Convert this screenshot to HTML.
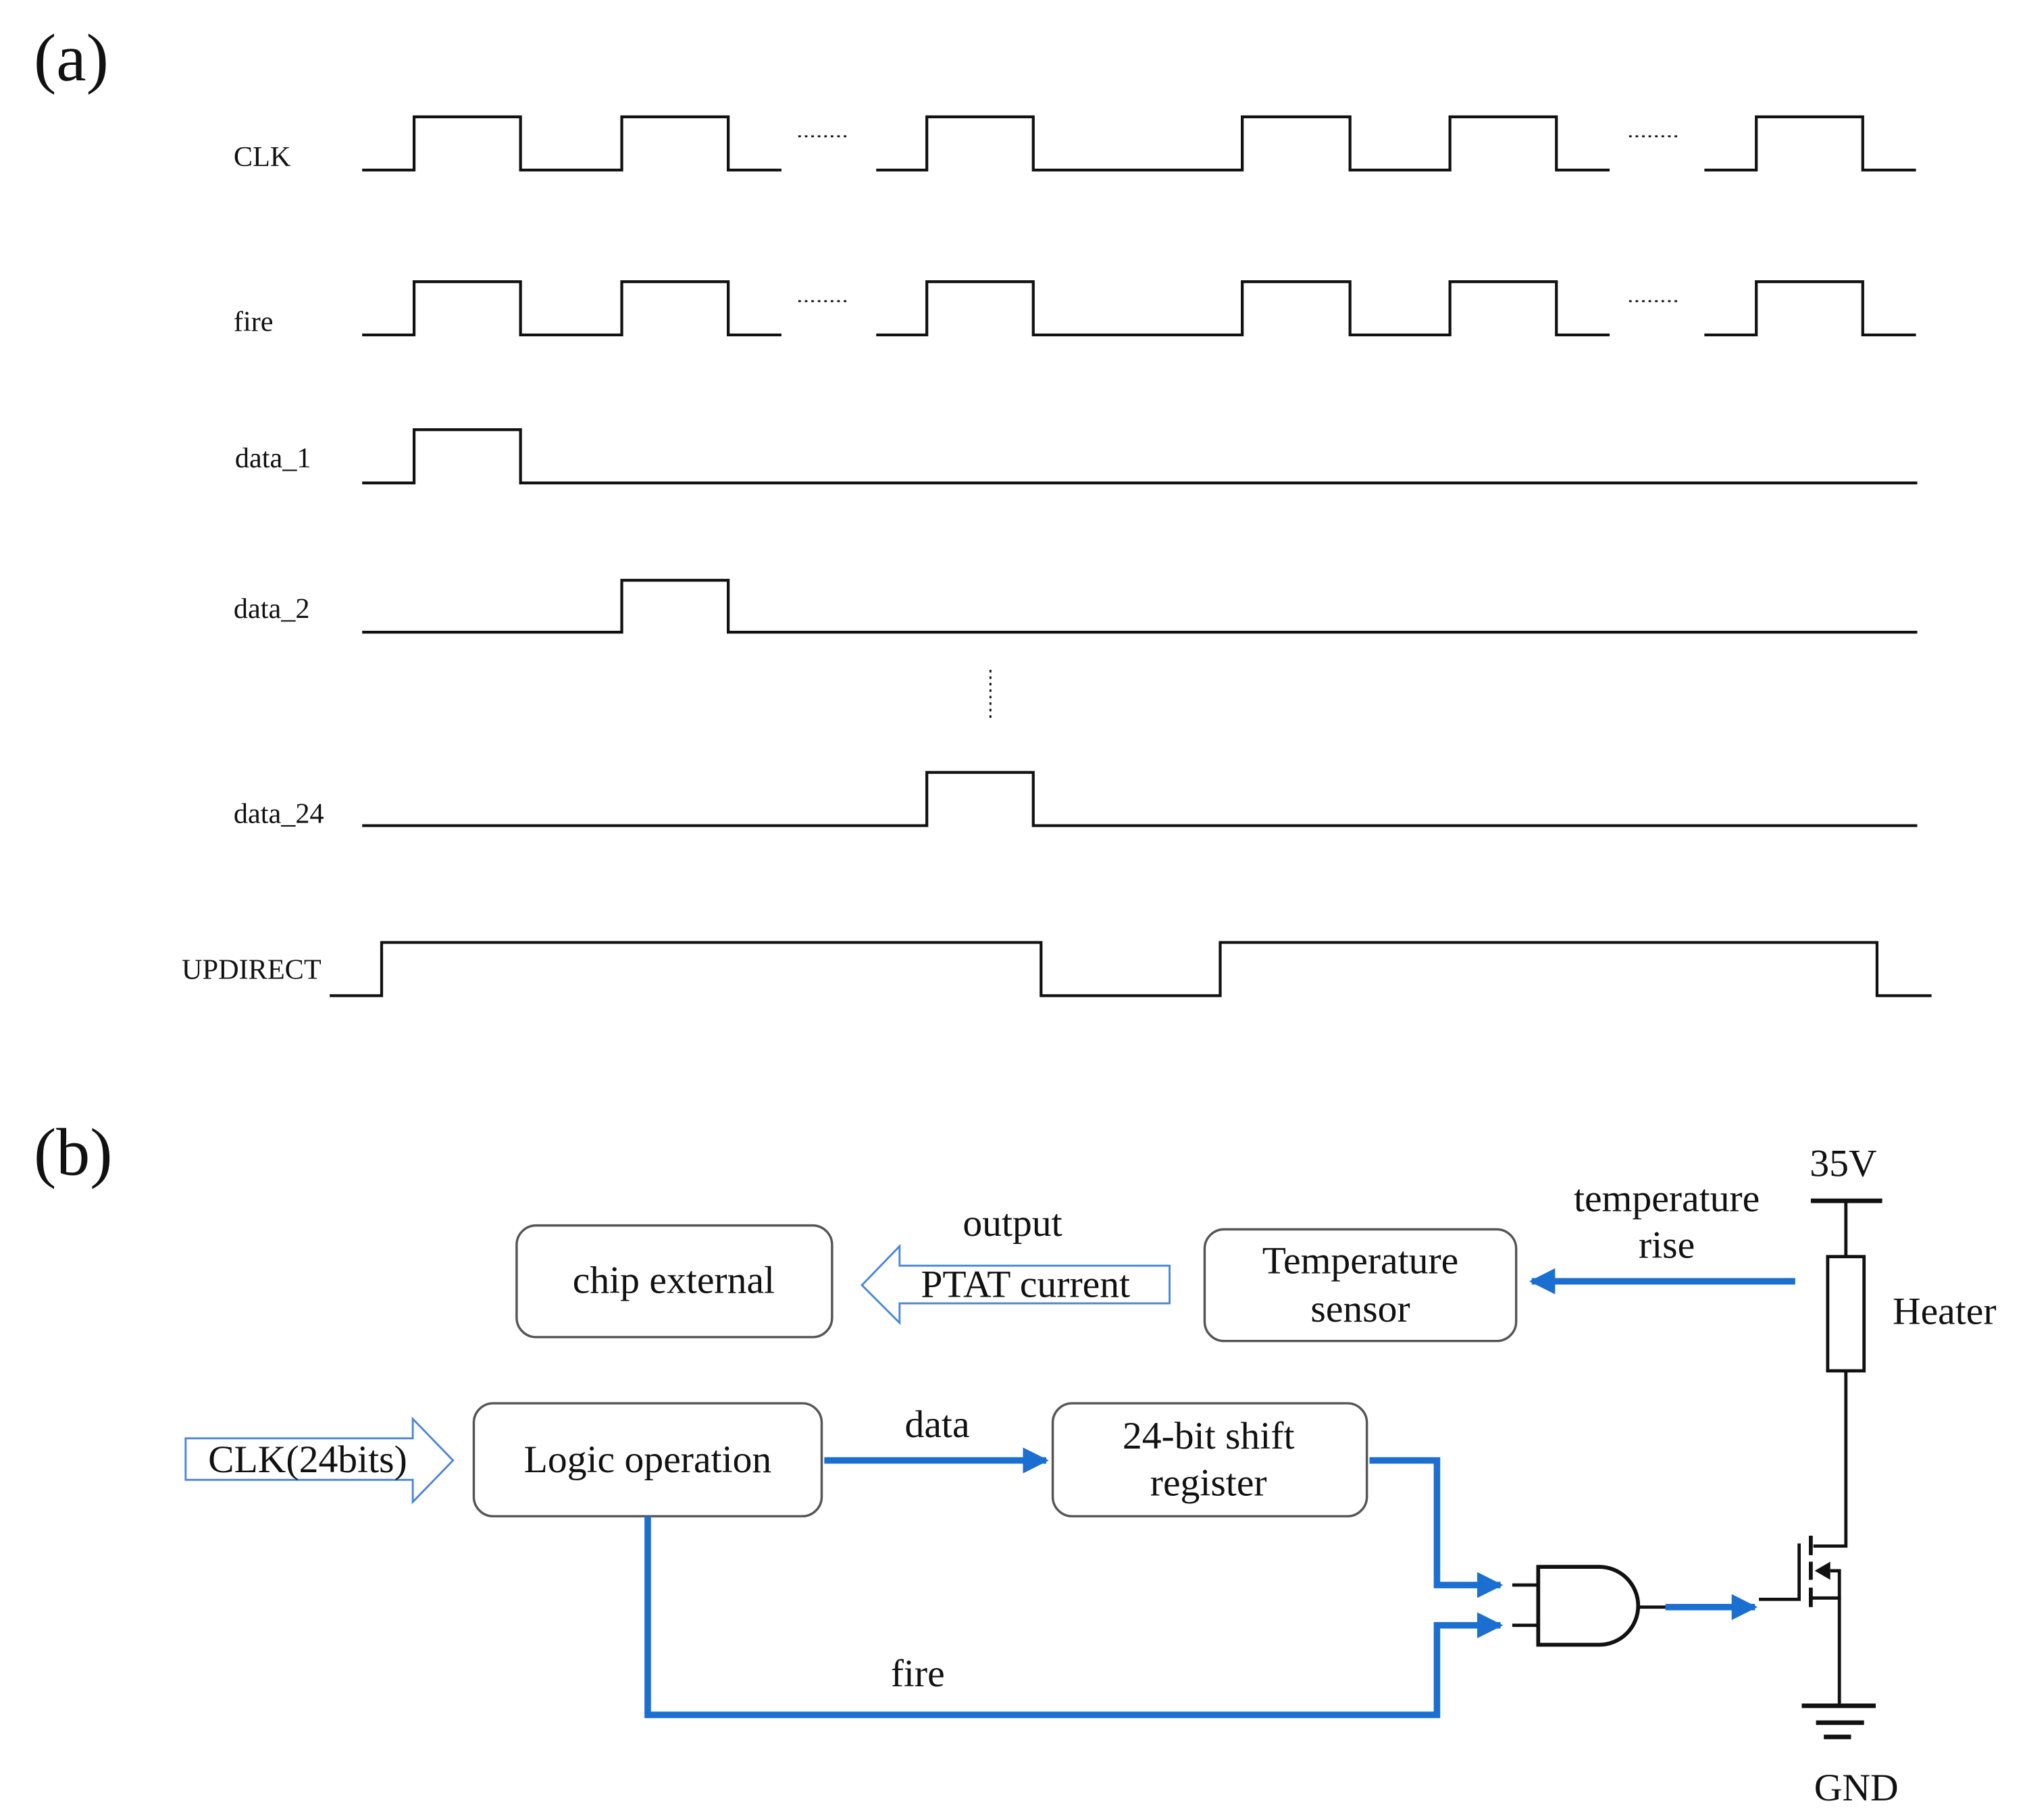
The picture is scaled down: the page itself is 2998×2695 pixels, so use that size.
<!DOCTYPE html>
<html><head><meta charset="utf-8"><style>
html,body{margin:0;padding:0;background:#fff}
svg{display:block}
text{font-family:"Liberation Serif",serif;fill:#111}
</style></head><body>
<svg width="2998" height="2695" viewBox="0 0 1560 1402" preserveAspectRatio="none" xmlns="http://www.w3.org/2000/svg">
<defs>
<marker id="ab" viewBox="0 0 10 10" refX="9" refY="5" markerWidth="4" markerHeight="4" orient="auto" markerUnits="strokeWidth"><path d="M0,0L10,5L0,10z" fill="#1a6fd0"/></marker>
</defs>
<text x="26" y="62" font-size="52">(a)</text>
<g fill="none" stroke="#111" stroke-width="2.2">
<!-- CLK -->
<path d="M279,131H319V90H401V131H479V90H561V131H602"/>
<path d="M675,131H714V90H796V131H957V90H1040V131H1117V90H1199V131H1240"/>
<path d="M1313,131H1353V90H1435V131H1476"/>
<!-- fire -->
<path d="M279,258H319V217H401V258H479V217H561V258H602"/>
<path d="M675,258H714V217H796V258H957V217H1040V258H1117V217H1199V258H1240"/>
<path d="M1313,258H1353V217H1435V258H1476"/>
<!-- data -->
<path d="M279,372H319V331H401V372H1477"/>
<path d="M279,487H479V447H561V487H1477"/>
<path d="M279,636H714V595H796V636H1477"/>
<path d="M254,767H294V726H802V767H940V726H1446V767H1488"/>
<path d="M763,516V553" stroke-width="1.5" stroke-dasharray="2,3"/>
<path d="M615,105H655M1255,105H1293M615,232H655M1255,232H1293" stroke-width="1.5" stroke-dasharray="2,3"/>
</g>
<g font-size="22">
<text x="180" y="128">CLK</text>
<text x="180" y="255">fire</text>
<text x="181" y="360">data_1</text>
<text x="180" y="476">data_2</text>
<text x="180" y="634">data_24</text>
<text x="140" y="754">UPDIRECT</text>
</g>

<text x="26" y="905" font-size="52">(b)</text>
<g fill="#fff" stroke="#555" stroke-width="1.8">
<rect x="398" y="944" width="243" height="86" rx="15"/>
<rect x="928" y="947" width="240" height="86" rx="15"/>
<rect x="365" y="1081" width="268" height="87" rx="15"/>
<rect x="811" y="1081" width="242" height="87" rx="15"/>
</g>
<g fill="#fff" stroke="#4a86d8" stroke-width="1.5">
<path d="M901,975H693V960L664,990L693,1019V1004H901Z"/>
<path d="M143,1108H318V1093L349,1125L318,1157V1140H143Z"/>
</g>
<g font-size="30" text-anchor="middle">
<text x="519" y="996">chip external</text>
<text x="790" y="999">PTAT current</text>
<text x="780" y="952">output</text>
<text x="1048" y="981">Temperature</text>
<text x="1048" y="1018">sensor</text>
<text x="1284" y="933">temperature</text>
<text x="1284" y="969">rise</text>
<text x="1420" y="906">35V</text>
<text x="237" y="1134">CLK(24bits)</text>
<text x="499" y="1134">Logic operation</text>
<text x="722" y="1107">data</text>
<text x="931" y="1116">24-bit shift</text>
<text x="931" y="1152">register</text>
<text x="707" y="1299">fire</text>
<text x="1430" y="1387">GND</text>
</g>
<text x="1458" y="1020" font-size="30">Heater</text>
<g fill="none" stroke="#1a6fd0" stroke-width="5">
<path d="M1383,987H1180" marker-end="url(#ab)"/>
<path d="M635,1125H806" marker-end="url(#ab)"/>
<path d="M1055,1125H1107V1221H1156" marker-end="url(#ab)"/>
<path d="M499,1168V1321H1107V1252H1156" marker-end="url(#ab)"/>
<path d="M1283,1238H1352" marker-end="url(#ab)"/>
</g>
<g fill="none" stroke="#111" stroke-width="2.5">
<path d="M1395,925H1450" stroke-width="3.5"/>
<path d="M1422,925V968"/>
<rect x="1408" y="968" width="28" height="88" fill="#fff"/>
<path d="M1422,1056V1191H1397"/>
<path d="M1165,1221H1185M1165,1252H1185"/>
<path d="M1185,1207H1232A30,30 0 0 1 1232,1267H1185Z" stroke-width="3"/>
<path d="M1262,1238H1283"/>
<path d="M1355,1232H1386V1189"/>
<path d="M1395,1183V1198M1395,1203V1217M1395,1223V1238" stroke-width="3"/>
<path d="M1395,1231H1417V1210H1410"/>
<path d="M1417,1231V1314"/>
<path d="M1388,1314H1445M1399,1327H1436M1405,1338H1426" stroke-width="3.5"/>
</g>
<path d="M1398,1210L1410,1203V1217Z" fill="#111"/>
</svg>
</body></html>
